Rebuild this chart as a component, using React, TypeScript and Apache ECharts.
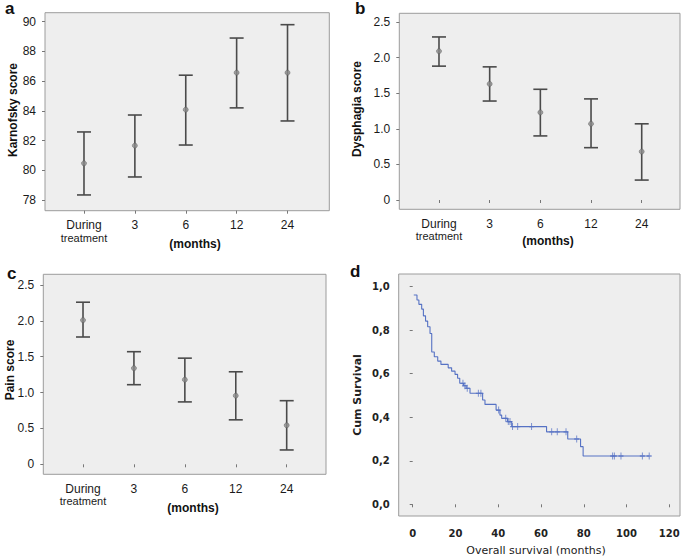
import React, { useEffect, useRef } from 'react';
import * as echarts from 'echarts';

// ---------- data ----------
const categories = ['During treatment', '3', '6', '12', '24'];

const karnofskyMean = [80.47, 81.66, 84.08, 86.57, 86.57];
const karnofskyLow = [78.34, 79.55, 81.7, 84.2, 83.32];
const karnofskyHigh = [82.58, 83.72, 86.4, 88.9, 89.8];

const dysphagiaMean = [2.09, 1.63, 1.23, 1.07, 0.68];
const dysphagiaLow = [1.88, 1.39, 0.9, 0.735, 0.28];
const dysphagiaHigh = [2.29, 1.87, 1.555, 1.42, 1.07];

const painMean = [2.01, 1.34, 1.18, 0.957, 0.544];
const painLow = [1.775, 1.11, 0.87, 0.62, 0.2];
const painHigh = [2.26, 1.57, 1.48, 1.29, 0.887];

// Kaplan-Meier steps (months, cumulative survival after the step)
const survivalTimes = [0.5, 2.0, 2.9, 4.2, 5.0, 6.0, 7.0, 8.1, 8.9, 10.1, 11.7, 13.2, 16.6, 18.2, 19.8, 21.0, 22.0, 23.8, 25.0, 26.8, 32.7, 33.8, 39.0, 40.8, 41.6, 44.3, 46.3, 62.6, 72.5, 78.5, 79.7, 110.6];
const survivalValues = [0.962, 0.939, 0.919, 0.897, 0.866, 0.842, 0.816, 0.785, 0.70, 0.678, 0.658, 0.643, 0.627, 0.612, 0.597, 0.579, 0.556, 0.545, 0.533, 0.51, 0.479, 0.459, 0.433, 0.41, 0.395, 0.38, 0.357, 0.333, 0.30, 0.265, 0.222, 0.222];
const censorTimes = [23.5, 24.4, 25.5, 30.7, 31.9, 40.2, 43.5, 44.7, 45.5, 46.7, 49.1, 55.6, 65.0, 67.6, 71.7, 76.7, 93.5, 94.3, 97.4, 107.4, 110.6];

// ---------- helpers ----------
const narrow = "'Liberation Sans Narrow', 'Arial Narrow', 'Liberation Sans', Arial, sans-serif";
const sans = "'Liberation Sans', Arial, sans-serif";
const dejavu = "'DejaVu Sans', Verdana, sans-serif";

function survAt(t: number): number {
  let v = survivalValues[0];
  for (let i = 0; i < survivalTimes.length; i++) {
    if (survivalTimes[i] <= t) v = survivalValues[i];
  }
  return v;
}

function errorBarSeries(idx: number, low: number[], high: number[]) {
  return {
    type: 'custom',
    xAxisIndex: idx,
    yAxisIndex: idx,
    data: categories.map((_, i) => [i, low[i], high[i]]),
    z: 3,
    renderItem: (params: any, api: any) => {
      const lo = api.coord([api.value(0), api.value(1)]);
      const hi = api.coord([api.value(0), api.value(2)]);
      const half = 7;
      const style = { stroke: '#4a4a4a', lineWidth: 1.6 };
      return {
        type: 'group',
        children: [
          { type: 'line', shape: { x1: lo[0], y1: lo[1], x2: hi[0], y2: hi[1] }, style },
          { type: 'line', shape: { x1: lo[0] - half, y1: lo[1], x2: lo[0] + half, y2: lo[1] }, style },
          { type: 'line', shape: { x1: hi[0] - half, y1: hi[1], x2: hi[0] + half, y2: hi[1] }, style },
        ],
      };
    },
  };
}

function meanSeries(idx: number, mean: number[]) {
  return {
    type: 'scatter',
    xAxisIndex: idx,
    yAxisIndex: idx,
    data: mean,
    symbol: 'circle',
    symbolSize: 5,
    z: 4,
    itemStyle: { color: '#8a8a8a', borderColor: '#5a5a5a', borderWidth: 0.6 },
  };
}

function catAxis(idx: number, offset: number) {
  return {
    type: 'category',
    gridIndex: idx,
    data: categories,
    boundaryGap: true,
    offset,
    axisLine: { show: false },
    axisTick: { show: true, alignWithLabel: true, length: 3, lineStyle: { color: '#777' } },
    axisLabel: {
      margin: 8,
      interval: 0,
      formatter: (v: string) => {
        if (v === 'During treatment') return '{a|During}\n{b|treatment}';
        return '{a|' + v + '}';
      },
      rich: {
        a: { fontSize: 12, fontFamily: narrow, color: '#1a1a1a', lineHeight: 13 },
        b: { fontSize: 11, fontFamily: narrow, color: '#1a1a1a', lineHeight: 12 },
      },
    },
    splitLine: { show: false },
  };
}

function valAxis(idx: number, min: number, max: number, interval: number, offset: number, fmt?: (v: number) => string) {
  return {
    type: 'value',
    gridIndex: idx,
    min,
    max,
    interval,
    offset,
    axisLine: { show: false },
    axisTick: { show: true, length: 3, lineStyle: { color: '#777' } },
    axisLabel: {
      margin: 9,
      fontSize: 12,
      fontFamily: narrow,
      color: '#1a1a1a',
      formatter: fmt,
    },
    splitLine: { show: false },
  };
}

function frame(x: number, y: number, w: number, h: number) {
  return {
    type: 'rect',
    z: -1,
    shape: { x, y, width: w, height: h },
    style: { fill: '#eeeeee', stroke: '#9c9c9c', lineWidth: 1 },
  };
}

function label(text: string, x: number, y: number, font: string, opts: any = {}) {
  return {
    type: 'text',
    z: 10,
    x,
    y,
    rotation: opts.rotation || 0,
    style: {
      text,
      font,
      fill: opts.fill || '#111',
      textAlign: opts.align || 'center',
      textVerticalAlign: opts.valign || 'middle',
    },
  };
}

export default function App() {
  const ref = useRef<HTMLDivElement>(null);

  useEffect(() => {
    if (!ref.current) return;
    const chart = echarts.init(ref.current, undefined, { renderer: 'svg' });

    const fmt1 = (v: number) => (v === 0 ? '0' : v.toFixed(1));

    const option: any = {
      animation: false,
      backgroundColor: '#ffffff',
      grid: [
        { left: 58.55, top: 21.7, width: 254.4, height: 178.3, show: false },
        { left: 413.65, top: 22, width: 253.4, height: 178, show: false },
        { left: 57.55, top: 285, width: 254.6, height: 179.3, show: false },
        { left: 412.7, top: 286.7, width: 256.6, height: 217.6, show: false },
      ],
      xAxis: [
        catAxis(0, 10.7),
        catAxis(1, 9.3),
        catAxis(2, 10),
        {
          type: 'value',
          gridIndex: 3,
          min: 0,
          max: 120,
          interval: 20,
          offset: 11.7,
          axisLine: { show: false },
          axisTick: { show: true, length: 3, lineStyle: { color: '#777' } },
          axisLabel: { margin: 12, fontSize: 10, fontWeight: 'bold', fontFamily: dejavu, color: '#222' },
          splitLine: { show: false },
        },
      ],
      yAxis: [
        valAxis(0, 78, 90, 2, 13.55),
        valAxis(1, 0, 2.5, 0.5, 14.35, fmt1),
        valAxis(2, 0, 2.5, 0.5, 14.25, fmt1),
        {
          type: 'value',
          gridIndex: 3,
          min: 0,
          max: 1,
          interval: 0.2,
          offset: 14,
          axisLine: { show: false },
          axisTick: { show: true, length: 3, lineStyle: { color: '#777' } },
          axisLabel: {
            margin: 9,
            fontSize: 10,
            fontWeight: 'bold',
            fontFamily: dejavu,
            color: '#222',
            formatter: (v: number) => v.toFixed(1).replace('.', ','),
          },
          splitLine: { show: false },
        },
      ],
      series: [
        errorBarSeries(0, karnofskyLow, karnofskyHigh),
        meanSeries(0, karnofskyMean),
        errorBarSeries(1, dysphagiaLow, dysphagiaHigh),
        meanSeries(1, dysphagiaMean),
        errorBarSeries(2, painLow, painHigh),
        meanSeries(2, painMean),
        {
          type: 'line',
          xAxisIndex: 3,
          yAxisIndex: 3,
          step: 'end',
          symbol: 'none',
          data: survivalTimes.map((t, i) => [t, survivalValues[i]]),
          lineStyle: { color: '#5672c4', width: 1.1 },
          z: 3,
        },
        {
          type: 'scatter',
          xAxisIndex: 3,
          yAxisIndex: 3,
          data: censorTimes.map((t) => [t, survAt(t)]),
          symbol: 'path://M5,0L5,10M0,5L10,5',
          symbolSize: [5, 7],
          itemStyle: { color: 'rgba(0,0,0,0)', borderColor: '#5672c4', borderWidth: 1.1 },
          z: 4,
        },
      ],
      graphic: [
        frame(45, 12.7, 284.3, 198),
        frame(399.3, 13.3, 280.7, 196),
        frame(43.3, 274.3, 282.7, 200),
        frame(398.7, 274, 281.3, 242),
        label('a', 5, 0, `bold 17px ${sans}`, { align: 'left', valign: 'top' }),
        label('b', 355, 0, `bold 17px ${sans}`, { align: 'left', valign: 'top' }),
        label('c', 7, 265, `bold 17px ${sans}`, { align: 'left', valign: 'top' }),
        label('d', 350, 263, `bold 17px ${sans}`, { align: 'left', valign: 'top' }),
        label('Karnofsky score', 12.5, 110, `bold 12px ${sans}`, { rotation: Math.PI / 2 }),
        label('Dysphagia score', 357, 109, `bold 12px ${sans}`, { rotation: Math.PI / 2 }),
        label('Pain score', 10, 370, `bold 12px ${sans}`, { rotation: Math.PI / 2 }),
        label('Cum Survival', 357, 395, `bold 11px ${dejavu}`, { rotation: Math.PI / 2, fill: '#222' }),
        label('(months)', 195, 244, `bold 12px ${sans}`),
        label('(months)', 548, 240.7, `bold 12px ${sans}`),
        label('(months)', 193, 508.3, `bold 12px ${sans}`),
        label('Overall survival (months)', 536, 550, `11px ${dejavu}`, { fill: '#222' }),
      ],
    };

    chart.setOption(option);
    return () => chart.dispose();
  }, []);

  return (
    <div
      ref={ref}
      style={{ position: 'fixed', left: 0, top: 0, width: 685, height: 558, background: '#fff' }}
    />
  );
}
